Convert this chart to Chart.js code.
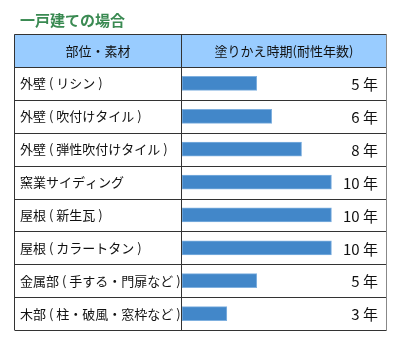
<!DOCTYPE html>
<html>
<head>
<meta charset="utf-8">
<script src="https://cdn.jsdelivr.net/npm/chart.js@4.4.1/dist/chart.umd.min.js"></script>
<style>
  body { margin: 0; background: #fff; }
  #wrap { width: 402px; height: 346px; position: relative; }
</style>
</head>
<body>
<div id="wrap"><canvas id="myChart"></canvas></div>
<script>
// データ
var title = "一戸建ての場合";
var headLeft = "部位・素材";
var headRight = "塗りかえ時期(耐性年数)";
var categories = [
  "外壁 ( リシン )",
  "外壁 ( 吹付けタイル )",
  "外壁 ( 弾性吹付けタイル )",
  "窯業サイディング",
  "屋根 ( 新生瓦 )",
  "屋根 ( カラートタン )",
  "金属部 ( 手する・門扉など )",
  "木部 ( 柱・破風・窓枠など )"
];
var years = [5, 6, 8, 10, 10, 10, 5, 3];
var unit = "年";

var FONT = "'Noto Sans CJK JP', 'Noto Sans', sans-serif";

// 表の枠・ヘッダー
var tablePlugin = {
  id: "table",
  beforeDraw: function(chart) {
    var ctx = chart.ctx, a = chart.chartArea;
    ctx.save();
    ctx.fillStyle = "#99ccff";
    ctx.fillRect(14, 34, a.right - 14, a.top - 34);
    ctx.fillStyle = "#3a8a52";
    ctx.font = "bold 15px " + FONT;
    ctx.textBaseline = "middle";
    ctx.fillText(title, 20, 20);
    ctx.fillStyle = "#111";
    ctx.font = "13px " + FONT;
    ctx.textAlign = "center";
    ctx.fillText(headLeft, (14 + a.left) / 2, 51);
    ctx.fillText(headRight, (a.left + a.right) / 2, 51);
    ctx.restore();
  },
  afterDraw: function(chart) {
    var ctx = chart.ctx, a = chart.chartArea, y = chart.scales.y;
    var step = (a.bottom - a.top) / categories.length;
    ctx.save();
    ctx.lineWidth = 1;
    ctx.strokeStyle = "#333";
    ctx.beginPath();
    ctx.moveTo(14.5, 34.5); ctx.lineTo(a.right, 34.5);
    ctx.moveTo(14.5, 34.5); ctx.lineTo(14.5, a.bottom);
    ctx.moveTo(a.left - 0.5, 34.5); ctx.lineTo(a.left - 0.5, a.bottom);
    for (var i = 0; i <= categories.length; i++) {
      var yy = Math.round(a.top + i * step) + 0.5;
      ctx.moveTo(14.5, yy); ctx.lineTo(a.right, yy);
    }
    ctx.stroke();
    ctx.strokeStyle = "#888";
    ctx.beginPath();
    ctx.moveTo(a.right + 0.5, 34); ctx.lineTo(a.right + 0.5, a.bottom + 1);
    ctx.stroke();

    // 年数
    var meta = chart.getDatasetMeta(0);
    ctx.fillStyle = "#111";
    ctx.font = "15px " + FONT;
    ctx.textAlign = "right";
    ctx.textBaseline = "middle";
    for (var j = 0; j < years.length; j++) {
      ctx.fillText(years[j] + " " + unit, 378, meta.data[j].y + 1);
    }
    ctx.restore();
  }
};

new Chart("myChart", {
  type: "bar",
  data: {
    labels: categories,
    datasets: [{
      data: years,
      backgroundColor: "#4287c9",
      borderColor: "#7fb0df",
      borderWidth: 1,
      borderSkipped: false,
      barThickness: 14
    }]
  },
  options: {
    indexAxis: "y",
    responsive: true,
    maintainAspectRatio: false,
    animation: false,
    layout: { padding: { top: 67, bottom: 16, left: 20, right: 16 } },
    plugins: { legend: { display: false }, tooltip: { enabled: false } },
    scales: {
      x: {
        display: false,
        min: 0,
        max: 13.65
      },
      y: {
        grid: { display: false },
        border: { display: false },
        afterFit: function(scale) { scale.width = 162; },
        ticks: {
          crossAlign: "far",
          color: "#111",
          font: { size: 13, family: FONT }
        }
      }
    }
  },
  plugins: [tablePlugin]
});
</script>
</body>
</html>
